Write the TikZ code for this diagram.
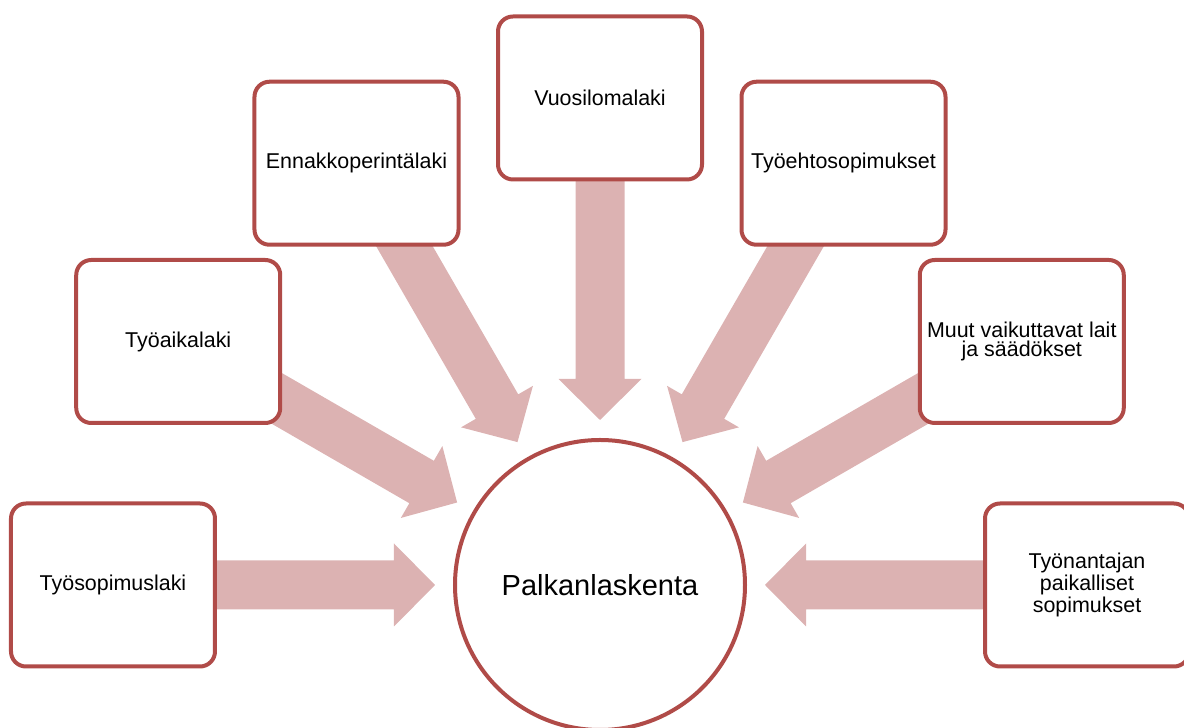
\documentclass[tikz,border=0pt]{standalone}
\usepackage{fontspec}
\setmainfont{Liberation Sans}
\usetikzlibrary{calc,backgrounds}
\definecolor{frame}{RGB}{176,75,72}
\definecolor{flow}{RGB}{220,178,178}
\tikzset{
  topic/.style={draw=frame, line width=0.08cm, fill=white, rounded corners=0.3cm,
    minimum width=4.08cm, minimum height=3.26cm, align=center, inner sep=0pt,
    font=\fontsize{12.2}{11.2}\selectfont},
  hub/.style={circle, draw=frame, line width=0.08cm, fill=white, minimum size=5.8cm,
    inner sep=0pt, font=\fontsize{16.5}{19}\selectfont},
  flowarrow/.style={fill=flow}
}
% block arrow from the centre of #1 towards node #2, stopping short of #2
\newcommand\radialarrow[2]{%
  \coordinate (tip) at ($(#2)!3.3cm!(#1)$);
  \coordinate (neck) at ($(#2)!4.12cm!(#1)$);
  \fill[flowarrow] (tip)
    -- ($(neck)!0.83cm!90:(#1)$) -- ($(neck)!0.49cm!90:(#1)$)
    -- ($(#1)!0.49cm!-90:(#2)$) -- ($(#1)!0.49cm!90:(#2)$)
    -- ($(neck)!0.49cm!-90:(#1)$) -- ($(neck)!0.83cm!-90:(#1)$) -- cycle;
}
\begin{document}
\begin{tikzpicture}
  \useasboundingbox (-12,-2.86) rectangle (11.68,11.7);

  \node[hub] (hub) at (0,0) {Palkanlaskenta};

  \node[topic] (t1) at (180:9.74) {Työsopimuslaki};
  \node[topic] (t2) at (150:9.74) {Työaikalaki};
  \node[topic] (t3) at (120:9.74) {Ennakkoperintälaki};
  \node[topic] (t4) at (90:9.74)  {Vuosilomalaki};
  \node[topic] (t5) at (60:9.74)  {Työehtosopimukset};
  \node[topic] (t6) at (30:9.74)  {Muut vaikuttavat lait\\ja säädökset};
  \node[topic] (t7) at (0:9.74)   {Työnantajan\\paikalliset\\sopimukset};

  \begin{pgfonlayer}{background}
    \foreach \src in {t1,t2,t3,t4,t5,t6,t7} {\radialarrow{\src}{hub}}
  \end{pgfonlayer}
\end{tikzpicture}
\end{document}
